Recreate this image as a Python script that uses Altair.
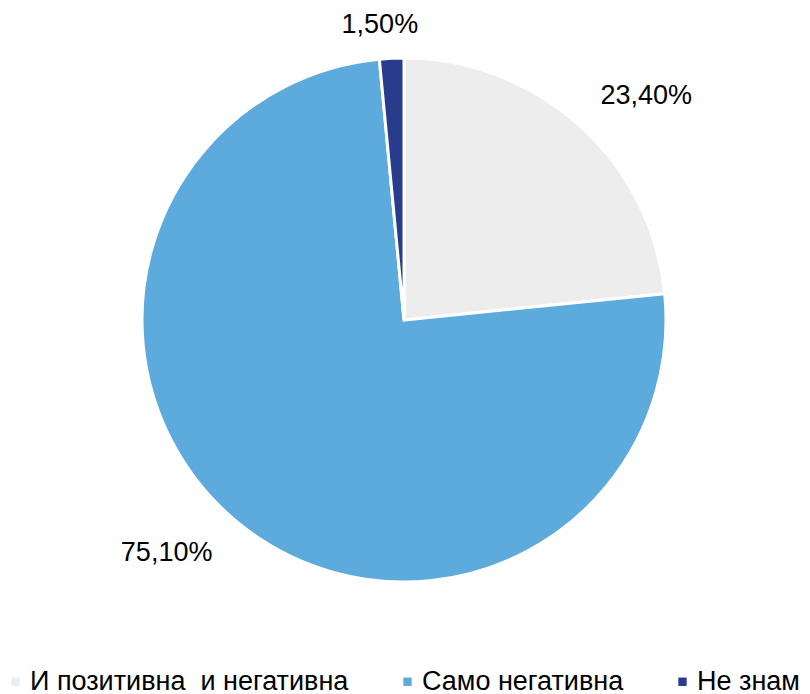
import altair as alt
import pandas as pd

categories = ["И позитивна\u00a0 и негативна", "Само негативна", "Не знам"]
values = [23.4, 75.1, 1.5]
labels = ["23,40%", "75,10%", "1,50%"]
colors = ["#EDEDED", "#5DAADC", "#283B8C"]

df = pd.DataFrame({
    "cat": categories,
    "value": values,
    "label": labels,
    "idx": list(range(len(categories))),
})

CX, CY = 396, 312
FONT = "Liberation Sans"

pie = alt.Chart(df).mark_arc(radius=262, stroke="white", strokeWidth=3).encode(
    theta=alt.Theta("value:Q", stack=True, scale=alt.Scale(domain=[0, 100])),
    order=alt.Order("idx:Q"),
    x=alt.value(CX),
    y=alt.value(CY),
    color=alt.Color(
        "cat:N",
        scale=alt.Scale(domain=categories, range=colors),
        sort=categories,
        legend=alt.Legend(
            orient="none",
            legendX=-6,
            legendY=660,
            direction="horizontal",
            title=None,
            symbolType="square",
            symbolSize=70,
            symbolStrokeWidth=0,
            labelFont=FONT,
            labelFontSize=27,
            labelColor="#000000",
            labelOffset=1,
            columnPadding=45,
            labelLimit=500,
        ),
    ),
)

def lab(i, r, dx, dy):
    return (
        alt.Chart(df)
        .transform_window(cum="sum(value)", sort=[alt.SortField("idx")], frame=[None, 0])
        .transform_calculate(mid="datum.cum - datum.value / 2")
        .transform_filter(alt.datum.idx == i)
        .mark_text(
            radius=r, dx=dx, dy=dy, font=FONT, fontSize=27, color="#000000",
            align="center", baseline="middle",
        )
        .encode(
            theta=alt.Theta("mid:Q", stack=None),
            x=alt.value(CX),
            y=alt.value(CY),
            text="label:N",
        )
    )

chart = alt.layer(
    pie,
    lab(0, 330, 21, 21),
    lab(1, 336, -24, -27),
    lab(2, 300, -10, 5),
).properties(
    width=794, height=686,
    autosize=alt.AutoSizeParams(type="none"),
    padding=0,
).configure_view(stroke=None)

chart.save("out.html", embed_options={"renderer": "svg", "actions": False})
